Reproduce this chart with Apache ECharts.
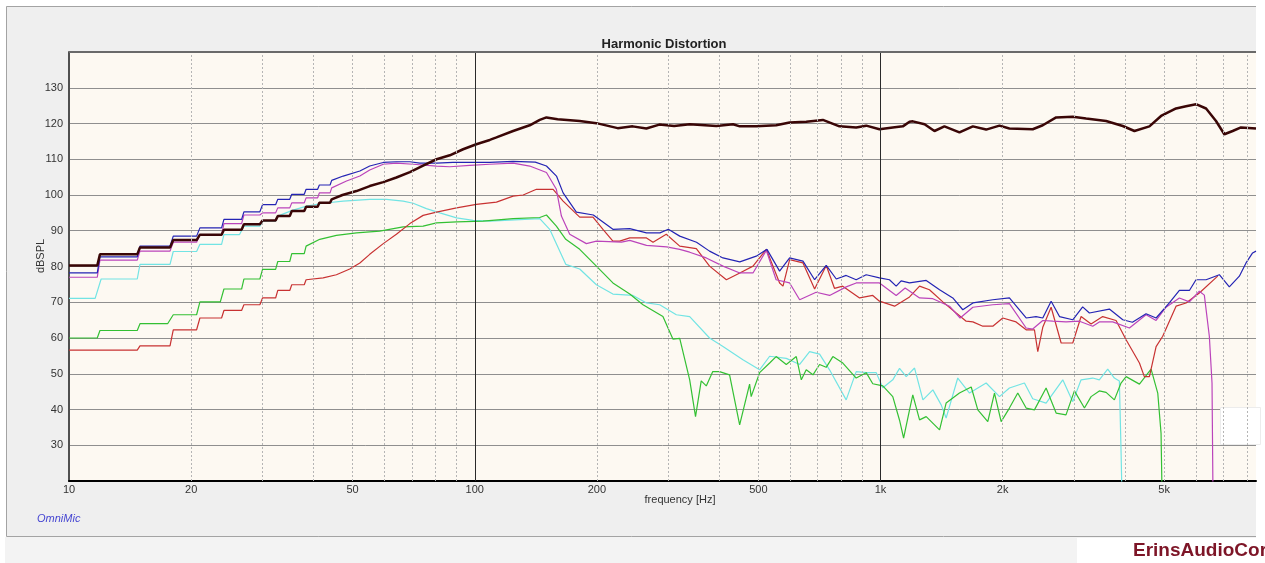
<!DOCTYPE html>
<html>
<head>
<meta charset="utf-8">
<script src="https://cdn.jsdelivr.net/npm/echarts@6/dist/echarts.min.js"></script>
<style>
  html, body { margin: 0; padding: 0; background: #fff; }
  #chart { width: 1265px; height: 563px; }
</style>
</head>
<body>
<div id="chart"></div>
<script>
// [frequency Hz, dB SPL]
const fundamentalCurve = [
  [10, 80.3], [11.74, 80.3], [11.92, 83.4], [14.73, 83.4], [14.96, 85.3], [17.74, 85.3], [18.07, 87.4],
  [20.63, 87.4], [21.02, 88.9], [23.77, 88.9], [24.09, 90.3], [26.63, 90.3], [26.98, 91.8], [29.54, 91.8],
  [29.99, 92.9], [32.3, 92.9], [32.7, 94.1], [35.0, 94.1], [35.4, 95.5], [38.0, 95.5], [38.4, 96.7],
  [41.0, 96.7], [41.4, 97.8], [44.0, 97.8], [44.4, 98.8], [47.2, 100.0], [51.1, 101.1], [55.1, 102.5],
  [59.5, 103.6], [64.1, 104.9], [69.2, 106.4], [74.6, 108.2], [80.5, 110.0], [86.8, 111.1], [93.6, 112.8],
  [100.9, 114.2], [108.9, 115.4], [113.1, 116.1], [124.3, 117.9], [136.6, 119.5], [144.6, 121.0],
  [150.2, 121.7], [160, 121.2], [181.4, 120.7], [199.4, 120.1], [225, 118.7], [245, 119.2], [264.8, 118.6],
  [285, 119.7], [310, 119.3], [338.6, 119.8], [394, 119.3], [433, 119.8], [450, 119.2], [494, 119.2],
  [553, 119.5], [597, 120.3], [656, 120.5], [721, 121.0], [792, 119.2], [871, 118.9], [922, 119.4],
  [994, 118.4], [1072, 118.9], [1135, 119.2], [1179, 120.5], [1201, 120.6], [1284, 119.8], [1358, 117.9],
  [1437, 119.2], [1565, 117.5], [1689, 119.2], [1821, 118.3], [1964, 119.4], [2078, 118.6], [2372, 118.4],
  [2511, 119.5], [2709, 121.7], [2977, 121.9], [3211, 121.4], [3597, 120.7], [3954, 119.3], [4224, 117.9],
  [4599, 119.2], [4913, 122.1], [5350, 124.2], [5662, 124.8], [5991, 125.4], [6343, 124.2], [6711, 120.7],
  [7037, 117.0], [7376, 117.9], [7734, 118.9], [8421, 118.6]
];

const blueCurve = [
  [10, 78.2], [11.74, 78.2], [11.92, 82.7], [14.73, 82.7], [14.96, 85.7], [17.74, 85.7], [18.07, 88.5],
  [20.63, 88.5], [21.02, 90.8], [23.77, 90.8], [24.09, 93.2], [26.63, 93.2], [26.98, 95.3], [29.54, 95.3],
  [29.99, 97.3], [32.3, 97.3], [32.7, 98.8], [35.0, 98.8], [35.4, 100.2], [38.0, 100.2], [38.4, 101.6],
  [41.0, 101.6], [41.4, 102.8], [44.0, 102.8], [44.4, 104.1], [47.4, 105.3], [52.1, 106.7], [55.1, 108.1],
  [59.5, 109.1], [64.1, 109.3], [69.2, 109.3], [73.2, 108.9], [80.5, 108.9], [88.4, 109.1], [108.9, 109.1],
  [124.3, 109.4], [141, 109.2], [150.2, 108.1], [159, 105.3], [165.1, 100.6], [178, 95.2], [196, 94.4],
  [219, 90.4], [241, 90.6], [265, 89.4], [286, 89.4], [300, 90.4], [320, 88.5], [352, 86.8], [379, 84.3],
  [409, 82.4], [450, 81.3], [494, 82.9], [525, 84.8], [564, 78.7], [597, 82.4], [644, 81.5], [688, 76.3],
  [735, 80.3], [778, 76.5], [823, 77.5], [871, 76.3], [922, 77.7], [994, 76.8], [1052, 76.3], [1093, 74.5],
  [1124, 76.0], [1179, 75.4], [1296, 76.1], [1398, 73.5], [1507, 71.2], [1595, 67.9], [1689, 69.8],
  [1891, 70.7], [2078, 71.2], [2285, 65.6], [2417, 66.0], [2511, 65.6], [2633, 70.3], [2761, 66.0],
  [2977, 65.1], [3149, 68.7], [3272, 67.0], [3664, 68.1], [3954, 65.1], [4177, 64.4], [4512, 66.8],
  [4777, 65.6], [5149, 69.8], [5452, 73.3], [5771, 73.3], [5991, 76.3], [6343, 76.3], [6839, 77.7],
  [7238, 74.3], [7662, 77.3], [7958, 81.0], [8260, 83.8], [8421, 84.3]
];

const magentaCurve = [
  [10, 77.0], [11.74, 77.0], [11.92, 81.8], [14.73, 81.8], [14.96, 84.3], [17.74, 84.3], [18.07, 86.8],
  [20.63, 86.8], [21.02, 88.9], [23.77, 88.9], [24.09, 92.0], [26.63, 92.0], [26.98, 94.4], [29.54, 94.4],
  [29.99, 95.0], [32.3, 95.0], [32.7, 96.4], [35.0, 96.4], [35.4, 97.8], [38.0, 97.8], [38.4, 99.2],
  [41.0, 99.2], [41.4, 100.6], [44.0, 100.6], [44.4, 102.0], [48.3, 103.9], [52.1, 105.3], [55.1, 107.0],
  [59.5, 108.6], [64.1, 108.9], [70.5, 108.6], [80.5, 108.1], [86.8, 107.9], [97.2, 108.3], [108.9, 108.6],
  [124.3, 108.9], [136.6, 108.1], [150.2, 106.3], [158.9, 101.6], [163.5, 94.1], [171.4, 89.0],
  [188.4, 86.4], [199.4, 87.1], [230, 86.8], [241, 87.3], [265, 85.9], [297, 85.5], [320, 84.8],
  [338.6, 84.0], [372, 82.4], [409, 80.1], [450, 78.2], [485, 78.2], [523, 84.5], [553, 76.3], [597, 75.4],
  [632, 70.7], [694, 72.8], [749, 71.9], [823, 74.3], [871, 75.4], [994, 75.4], [1093, 71.9], [1150, 74.0],
  [1248, 71.2], [1346, 71.0], [1479, 68.9], [1571, 65.6], [1689, 68.6], [1891, 69.3], [2078, 69.6],
  [2285, 62.8], [2372, 62.5], [2511, 64.9], [2658, 64.7], [2865, 64.5], [3092, 64.7], [3334, 63.3],
  [3461, 64.5], [3735, 64.5], [4106, 62.8], [4512, 66.5], [4777, 64.9], [5053, 68.6], [5452, 71.2],
  [5771, 70.1], [6105, 73.1], [6281, 72.0], [6462, 60.5], [6561, 47.4], [6610, 5], [8421, 5]
];

const redCurve = [
  [10, 56.6], [14.73, 56.6], [14.96, 57.8], [17.74, 57.8], [18.07, 62.3], [20.63, 62.3], [21.02, 65.6],
  [23.77, 65.6], [24.09, 67.7], [26.63, 67.7], [26.98, 69.3], [29.54, 69.3], [29.99, 71.2], [32.3, 71.2],
  [32.7, 73.3], [35.0, 73.3], [35.4, 74.9], [38.0, 74.9], [38.4, 76.3], [42.3, 76.8], [45.6, 77.7],
  [49.2, 79.3], [52.1, 81.0], [55.1, 83.4], [59.5, 86.4], [64.1, 89.0], [69.2, 92.0], [74.6, 94.3],
  [80.5, 95.2], [90.2, 96.4], [100.9, 97.4], [113.1, 98.0], [124.3, 99.7], [131.6, 100.0], [141.9, 101.6],
  [156, 101.6], [165.1, 98.3], [181.4, 93.8], [195.6, 93.8], [207, 90.4], [219, 87.1], [227.6, 87.1],
  [241, 88.0], [265, 88.0], [275, 86.8], [296.5, 89.0], [320, 85.7], [351.6, 85.0], [379, 80.1],
  [417, 76.3], [450, 78.2], [485, 80.1], [523, 84.8], [564, 75.4], [575, 74.5], [597, 81.9], [644, 81.0],
  [688, 73.7], [735, 80.3], [770, 73.9], [807, 74.5], [888, 71.2], [957, 71.9], [994, 70.3], [1083, 68.9],
  [1179, 71.5], [1248, 74.5], [1320, 73.5], [1424, 70.1], [1536, 67.0], [1626, 64.7], [1689, 64.5],
  [1787, 63.3], [1891, 63.3], [2001, 65.6], [2158, 64.5], [2285, 62.3], [2395, 62.3], [2441, 56.2],
  [2511, 63.0], [2633, 68.6], [2787, 58.6], [2977, 58.6], [3121, 66.0], [3303, 63.9], [3528, 66.0],
  [3806, 64.9], [4029, 59.5], [4346, 53.0], [4469, 49.2], [4599, 49.2], [4777, 57.6], [4960, 60.5],
  [5350, 68.9], [5662, 69.8], [6105, 72.6], [6775, 77.3]
];

const greenCurve = [
  [10, 60.0], [11.74, 60.0], [11.92, 62.1], [14.73, 62.1], [14.96, 64.0], [17.5, 64.0], [18.07, 66.5],
  [20.63, 66.5], [21.02, 70.1], [23.6, 70.1], [24.09, 73.7], [26.63, 73.7], [26.98, 76.5], [29.54, 76.5],
  [29.99, 79.2], [32.3, 79.2], [32.7, 81.4], [35.0, 81.4], [35.4, 83.6], [38.0, 83.6], [38.4, 85.7],
  [41.5, 87.6], [45.6, 88.7], [51.1, 89.4], [58.3, 89.9], [66.6, 91.1], [74.6, 91.3], [80.5, 92.2],
  [90.2, 92.5], [104.8, 92.7], [124.3, 93.4], [144.6, 93.7], [150.2, 94.4], [158.9, 91.3], [167.6, 87.6],
  [181.4, 84.8], [199.4, 80.1], [219, 75.4], [241, 72.3], [259.8, 69.3], [290.9, 66.0], [307.8, 59.7],
  [320, 59.9], [338.6, 48.3], [350, 38.0], [361.5, 48.0], [372, 46.6], [386, 50.6], [401, 50.6],
  [424.6, 49.7], [449.6, 35.7], [475.7, 47.1], [480, 43.6], [503.5, 50.3], [533, 53.0], [553, 54.8],
  [585.8, 52.6], [620, 54.8], [637.9, 48.3], [656, 51.1], [681.5, 49.7], [707.6, 52.6], [734.8, 51.8],
  [763, 54.8], [807.4, 53.0], [871, 48.8], [922, 50.3], [957, 47.2], [1013, 46.6], [1072, 43.6],
  [1114, 37.0], [1140, 32.0], [1179, 39.9], [1201, 44.1], [1248, 37.1], [1296, 38.0], [1398, 34.3],
  [1451, 41.8], [1565, 44.6], [1673, 46.3], [1737, 39.9], [1838, 36.6], [1909, 44.6], [1983, 36.6],
  [2078, 40.4], [2179, 44.6], [2285, 40.4], [2395, 39.9], [2559, 46.0], [2709, 39.0], [2865, 38.5],
  [3005, 45.2], [3181, 40.4], [3303, 43.6], [3461, 45.2], [3597, 44.8], [3770, 42.7], [3915, 47.4],
  [4029, 49.2], [4346, 47.1], [4643, 51.3], [4822, 44.6], [4913, 33.4], [4960, 5]
];

const cyanCurve = [
  [10, 71.1], [11.6, 71.1], [12.0, 76.5], [14.73, 76.5], [14.96, 80.6], [17.74, 80.6], [18.07, 84.2],
  [20.63, 84.2], [21.02, 86.2], [23.77, 86.2], [24.09, 88.9], [26.3, 88.9], [26.98, 91.3], [29.54, 91.3],
  [29.99, 92.7], [32.3, 92.7], [32.7, 94.1], [35.5, 95.7], [38.5, 96.9], [42.3, 97.7], [47.4, 98.3],
  [55.1, 98.8], [60.6, 98.8], [66.6, 98.3], [70.5, 97.7], [76.0, 96.2], [82.0, 95.0], [90.2, 93.6],
  [99.1, 92.9], [108.9, 92.7], [144.6, 93.4], [153, 90.4], [167.6, 80.6], [181.4, 79.3], [199.4, 74.9],
  [219, 72.3], [245.5, 71.9], [265, 69.8], [285.6, 69.3], [313.9, 66.5], [338.6, 66.0], [379, 60.0],
  [409, 57.6], [458, 53.9], [503.5, 51.1], [533, 54.9], [585.8, 54.3], [632, 52.6], [668.7, 56.2],
  [707.6, 55.5], [748.8, 51.1], [823, 42.7], [871, 50.6], [922, 50.3], [976, 50.3], [1013, 46.1],
  [1072, 48.3], [1114, 51.5], [1157, 49.2], [1213, 51.6], [1272, 42.7], [1346, 45.5], [1411, 41.3],
  [1451, 37.6], [1550, 48.8], [1657, 44.6], [1821, 47.4], [1964, 43.6], [2078, 46.0], [2263, 47.4],
  [2372, 43.0], [2559, 41.8], [2813, 48.3], [2977, 42.2], [3121, 48.3], [3334, 48.8], [3461, 48.3],
  [3630, 51.3], [3770, 48.8], [3878, 48.0], [3915, 28.7], [3954, 5]
];

const minorGridFreqs = [20, 30, 40, 50, 60, 70, 80, 90, 200, 300, 400, 500, 600, 700, 800, 900,
  2000, 3000, 4000, 5000, 6000, 7000, 8000];
const majorGridFreqs = [100, 1000];
const minorLabelFreqs = [20, 50, 200, 500, 2000, 5000];
const majorLabelFreqs = [10, 100, 1000];
const yTicks = [30, 40, 50, 60, 70, 80, 90, 100, 110, 120, 130];

const FONT = "'Liberation Sans', Arial, sans-serif";
const labelColor = "#333333";

function freqLabel(f) {
  return f >= 1000 ? (f / 1000) + "k" : String(f);
}

const gridMarkLines = minorGridFreqs.map((f) => ({
  xAxis: f,
  lineStyle: { color: "#b5b5b5", type: [2, 2], width: 1 },
  label: minorLabelFreqs.includes(f)
    ? { show: true, position: "start", formatter: freqLabel(f), color: labelColor, fontSize: 11, fontFamily: FONT, distance: 3 }
    : { show: false }
}));
majorGridFreqs.forEach((f) => {
  gridMarkLines.push({
    xAxis: f,
    lineStyle: { color: "#2a2a2a", type: "solid", width: 1 },
    label: { show: false }
  });
});
gridMarkLines.push({
  yAxis: 140,
  lineStyle: { color: "#6a6a6a", type: "solid", width: 2 },
  label: { show: false }
});

const chart = echarts.init(document.getElementById("chart"), null, { renderer: "canvas" });

const lineSeries = (name, data, color, width) => ({
  name,
  type: "line",
  data,
  showSymbol: false,
  symbol: "none",
  clip: true,
  lineStyle: { color, width },
  itemStyle: { color },
  emphasis: { disabled: true },
  animation: false
});

const cyanSeries = lineSeries("cyan", cyanCurve, "#72e4e4", 1.2);
cyanSeries.markLine = {
  silent: true,
  symbol: ["none", "none"],
  animation: false,
  data: gridMarkLines
};

chart.setOption({
  animation: false,
  backgroundColor: "transparent",
  textStyle: { fontFamily: FONT },
  title: {
    text: "Harmonic Distortion",
    left: 659,
    top: 33,
    textAlign: "center",
    textStyle: { fontSize: 13, fontWeight: "bold", color: "#222", fontFamily: FONT }
  },
  graphic: [
    { type: "rect", z: -10, silent: true, shape: { x: 5, y: 537, width: 1251, height: 30 }, style: { fill: "#f3f3f3" } },
    { type: "rect", z: -10, silent: true, shape: { x: 6, y: 6, width: 1250, height: 530 }, style: { fill: "#efefef" } },
    { type: "polyline", z: -9, silent: true, shape: { points: [[1256, 6.5], [6.5, 6.5], [6.5, 536.5], [1256, 536.5]] }, style: { stroke: "#a3a3a3", lineWidth: 1, fill: null } },
    { type: "rect", z: -8, silent: true, shape: { x: 1077, y: 538, width: 200, height: 30 }, style: { fill: "#ffffff" } },
    { type: "rect", z: 1, silent: true, shape: { x: 1220.5, y: 407.5, width: 40, height: 37 }, style: { fill: "#ffffff", stroke: "#ececec", lineWidth: 1 } },
    { type: "text", z: 5, silent: true, left: 1133, top: 541, style: { text: "ErinsAudioCorner", fill: "#7d1527", font: "bold 19px " + FONT } },
    { type: "text", silent: true, left: 37, top: 513, style: { text: "OmniMic", fill: "#4646d2", font: "italic 11px " + FONT } },
    { type: "text", silent: true, x: 680, y: 500, style: { text: "frequency [Hz]", fill: labelColor, font: "11px " + FONT, align: "center", verticalAlign: "middle" } },
    { type: "text", silent: true, x: 41, y: 256, rotation: Math.PI / 2, style: { text: "dBSPL", fill: labelColor, font: "11px " + FONT, align: "center", verticalAlign: "middle" } }
  ],
  grid: {
    left: 69,
    top: 52,
    right: 9,
    bottom: 82,
    show: true,
    backgroundColor: "#fdf9f2",
    borderWidth: 0
  },
  xAxis: {
    type: "log",
    logBase: 10,
    min: 10,
    max: 8421,
    axisLine: { show: true, onZero: false, lineStyle: { color: "#000", width: 2 } },
    axisTick: { show: false },
    axisLabel: {
      color: labelColor,
      fontSize: 11,
      margin: 3,
      showMinLabel: true,
      showMaxLabel: false,
      formatter: (v) => {
        const hit = majorLabelFreqs.find((f) => Math.abs(f - v) / f < 1e-6);
        return hit ? freqLabel(hit) : "";
      }
    },
    splitLine: { show: false }
  },
  yAxis: {
    type: "value",
    min: 20,
    max: 140,
    interval: 10,
    axisLine: { show: true, lineStyle: { color: "#505050", width: 2 } },
    axisTick: { show: false },
    axisLabel: {
      color: labelColor,
      fontSize: 11,
      margin: 6,
      formatter: (v) => (yTicks.includes(v) ? String(v) : "")
    },
    splitLine: { show: true, lineStyle: { color: "#8f8f8f", width: 1 } }
  },
  series: [
    cyanSeries,
    lineSeries("green", greenCurve, "#33c033", 1.2),
    lineSeries("red", redCurve, "#c83232", 1.2),
    lineSeries("magenta", magentaCurve, "#bb44bb", 1.2),
    lineSeries("blue", blueCurve, "#2424b4", 1.2),
    lineSeries("fundamental", fundamentalCurve, "#3a0606", 2.5)
  ]
});
</script>
</body>
</html>
